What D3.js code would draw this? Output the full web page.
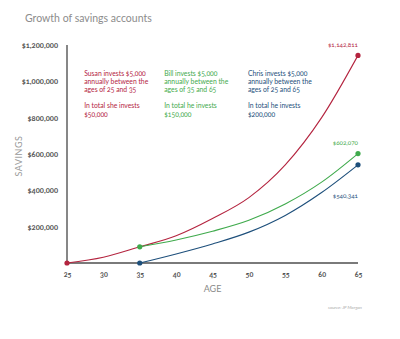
<!DOCTYPE html>
<html>
<head>
<meta charset="utf-8">
<script src="https://cdn.jsdelivr.net/npm/d3@7"></script>
<style>
  html, body { margin: 0; padding: 0; background: #fff; }
  svg { display: block; font-family: Lato, "Open Sans", sans-serif; font-feature-settings: "onum"; }
</style>
</head>
<body>
<svg id="chart" width="400" height="339"></svg>
<script>
// Savings balance by age for three investors
const ages = [25, 30, 35, 40, 45, 50, 55, 60, 65];
const susanAges = [25, 30, 35, 40, 45, 50, 55, 60, 65];
const susanValues = [0, 32000, 89000, 150000, 245000, 360000, 540000, 800000, 1142811];
const billAges = [35, 40, 45, 50, 55, 60, 65];
const billValues = [89000, 127000, 175000, 235000, 325000, 445000, 602070];
const chrisAges = [35, 40, 45, 50, 55, 60, 65];
const chrisValues = [0, 50000, 105000, 170000, 262000, 388000, 540341];
const yTicks = [200000, 400000, 600000, 800000, 1000000, 1200000];

const seriesNames = ["Susan", "Bill", "Chris"];
const seriesColors = ["#b4243f", "#3faa4c", "#1d4f7b"];
const endLabels = ["$1,142,811", "$602,070", "$540,341"];
const notes = [
  ["Susan invests $5,000", "annually between the", "ages of 25 and 35", "", "In total she invests", "$50,000"],
  ["Bill invests $5,000", "annually between the", "ages of 35 and 65", "", "In total he invests", "$150,000"],
  ["Chris invests $5,000", "annually between the", "ages of 25 and 65", "", "In total he invests", "$200,000"]
];
const noteAnchorAges = [27.5, 38.5, 50];

const svg = d3.select("#chart");
const x = d3.scaleLinear().domain([25, 65]).range([67, 358]);
const y = d3.scaleLinear().domain([0, 1200000]).range([263, 45]);

// Title
svg.append("text").attr("x", 25).attr("y", 22)
  .attr("font-size", 10.5).attr("fill", "#8c8c8c").text("Growth of savings accounts");

// Y tick labels
const yAxis = d3.axisLeft(y).tickValues(yTicks).tickSize(0).tickPadding(9)
  .tickFormat(d => "$" + d3.format(",")(d));
const gy = svg.append("g").attr("transform", `translate(${x(25)},0)`).call(yAxis);
gy.select(".domain").remove();
gy.selectAll("text").attr("font-size", 7.6).attr("font-weight", 700).attr("fill", "#555")
  .attr("font-family", "Lato, sans-serif");

// X tick labels
const xAxis = d3.axisBottom(x).tickValues(ages).tickSize(0).tickPadding(9);
const gx = svg.append("g").attr("transform", `translate(0,${y(0)})`).call(xAxis);
gx.select(".domain").remove();
gx.selectAll("text").attr("font-size", 7.2).attr("font-weight", 700).attr("fill", "#555")
  .attr("font-family", "Lato, sans-serif");

// Axis lines
svg.append("line").attr("x1", x(25)).attr("x2", x(25)).attr("y1", y(1200000)).attr("y2", y(0))
  .attr("stroke", "#7a7a7a").attr("stroke-width", 1.8);
svg.append("line").attr("x1", x(25)).attr("x2", x(65)).attr("y1", y(0)).attr("y2", y(0))
  .attr("stroke", "#7a7a7a").attr("stroke-width", 1.8);

// Axis titles
svg.append("text").attr("transform", `translate(22,${(y(0) + y(1200000)) / 2 + 2}) rotate(-90)`)
  .attr("text-anchor", "middle").attr("font-size", 9).attr("fill", "#9a9a9a")
  .attr("letter-spacing", 0.5).text("SAVINGS");
svg.append("text").attr("x", (x(25) + x(65)) / 2).attr("y", 292)
  .attr("text-anchor", "middle").attr("font-size", 9).attr("fill", "#8a8a8a").text("AGE");

// Source
svg.append("text").attr("x", 362).attr("y", 309).attr("text-anchor", "end")
  .attr("font-size", 4.5).attr("font-style", "italic").attr("fill", "#aaa").text("source: JP Morgan");

// Lines
const series = [
  { ages: susanAges, values: susanValues },
  { ages: billAges, values: billValues },
  { ages: chrisAges, values: chrisValues }
];
const line = d3.line().x(d => x(d[0])).y(d => y(d[1])).curve(d3.curveMonotoneX);

series.forEach((s, i) => {
  const pts = s.ages.map((a, j) => [a, s.values[j]]);
  svg.append("path").datum(pts).attr("d", line)
    .attr("fill", "none").attr("stroke", seriesColors[i]).attr("stroke-width", 1.1);
});

// Start and end dots
const dots = [
  [0, 0], [0, susanValues.length - 1],
  [1, 0], [1, billValues.length - 1],
  [2, 0], [2, chrisValues.length - 1]
];
dots.forEach(([i, j]) => {
  const s = series[i];
  svg.append("circle").attr("cx", x(s.ages[j])).attr("cy", y(s.values[j])).attr("r", 2.6)
    .attr("fill", seriesColors[i]);
});

// End value labels
const labelOffsets = [-8, -9, 33];
series.forEach((s, i) => {
  const n = s.values.length - 1;
  svg.append("text").attr("x", x(65)).attr("y", y(s.values[n]) + labelOffsets[i])
    .attr("text-anchor", "end").attr("font-size", 6.3).attr("fill", seriesColors[i])
    .text(endLabels[i]);
});

// Notes
notes.forEach((lines, i) => {
  const t = svg.append("text").attr("x", x(noteAnchorAges[i]) - 1).attr("y", 75.5)
    .attr("font-size", 6.8).attr("fill", seriesColors[i]);
  lines.forEach((ln, k) => {
    t.append("tspan").attr("x", x(noteAnchorAges[i]) - 1).attr("dy", k === 0 ? 0 : 8.2).text(ln || " ");
  });
});
</script>
</body>
</html>
